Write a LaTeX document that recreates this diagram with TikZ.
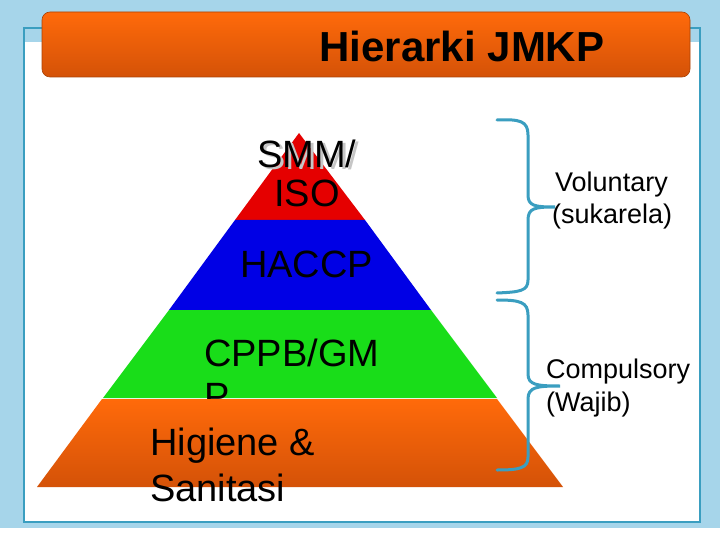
\documentclass[tikz,border=0pt]{standalone}
\usepackage{fontspec}
\setmainfont{Liberation Sans}
\definecolor{bgblue}{HTML}{A6D5EA}
\definecolor{teal}{HTML}{3A9EC0}
\definecolor{org}{HTML}{FF6A0A}
\definecolor{orgd}{HTML}{D45208}
\tikzset{
  ptext/.style={font=\fontsize{38}{42}\selectfont, anchor=base west, inner sep=0},
  stext/.style={font=\fontsize{27}{31}\selectfont, anchor=base west, inner sep=0},
}
\begin{document}
\begin{tikzpicture}[x=1pt,y=-1pt]
\useasboundingbox (0,0) rectangle (720,540);
\fill[bgblue] (0,0) rectangle (720,540);
\fill[white] (0,528) rectangle (720,540);
\fill[white] (24,42) rectangle (700,522);
\draw[teal, line width=2.5pt] (24,28) rectangle (700,522);
% title
\shade[rounded corners=8pt, top color=org, bottom color=orgd, draw=orgd!80!black, line width=0.6pt] (42,12) rectangle (690,77);
\node[font=\bfseries\fontsize{42}{46}\selectfont, anchor=base, inner sep=0] (title) at (462,62) {Hierarki JMKP};
% pyramid layers
\fill[red!90!black] (299,133) -- (365,220) -- (235,220) -- cycle;
\fill[blue!90!black] (235,220) -- (365,220) -- (431,310) -- (169,310) -- cycle;
\fill[green!85!black!90] (169,310) -- (431,310) -- (497,398) -- (103,398) -- cycle;
\node[ptext, text=gray!45] at (260,170) {SMM/};
\node[ptext] (smm) at (257,168) {SMM/};
\node[ptext] (iso) at (274,207) {ISO};
\node[ptext] (haccp) at (240,277) {HACCP};
\node[ptext] (cppb) at (204,366) {CPPB/GM};
\node[ptext] (p) at (204,409) {P};
\shade[top color=org, bottom color=orgd] (102,399) -- (497,399) -- (563,487) -- (37,487) -- cycle;
\node[ptext] (hig) at (150,455) {Higiene \&};
\node[ptext] (san) at (150,501) {Sanitasi};
% braces
\coordinate (b1t) at (497,120); \coordinate (b1b) at (497,293);
\coordinate (b2t) at (497,300); \coordinate (b2b) at (497,470);
\draw[teal, line width=3pt, line cap=round]
  (b1t) .. controls (520,119) and (528,121) .. (528,135) -- (528,195)
  .. controls (528,206) and (535,207) .. (555,207)
  .. controls (535,207) and (528,208) .. (528,220) -- (528,280)
  .. controls (528,291) and (520,292) .. (b1b);
\draw[teal, line width=3pt, line cap=round]
  (b2t) .. controls (520,300) and (528,302) .. (528,315) -- (528,374)
  .. controls (528,385) and (537,386) .. (560,386)
  .. controls (537,386) and (528,387) .. (528,399) -- (528,457)
  .. controls (528,468) and (520,470) .. (b2b);
\node[stext] (vol) at (555,192) {Voluntary};
\node[stext] (suk) at (552,224) {(sukarela)};
\node[stext] (com) at (546,378) {Compulsory};
\node[stext] (waj) at (546,411) {(Wajib)};
\end{tikzpicture}
\end{document}
